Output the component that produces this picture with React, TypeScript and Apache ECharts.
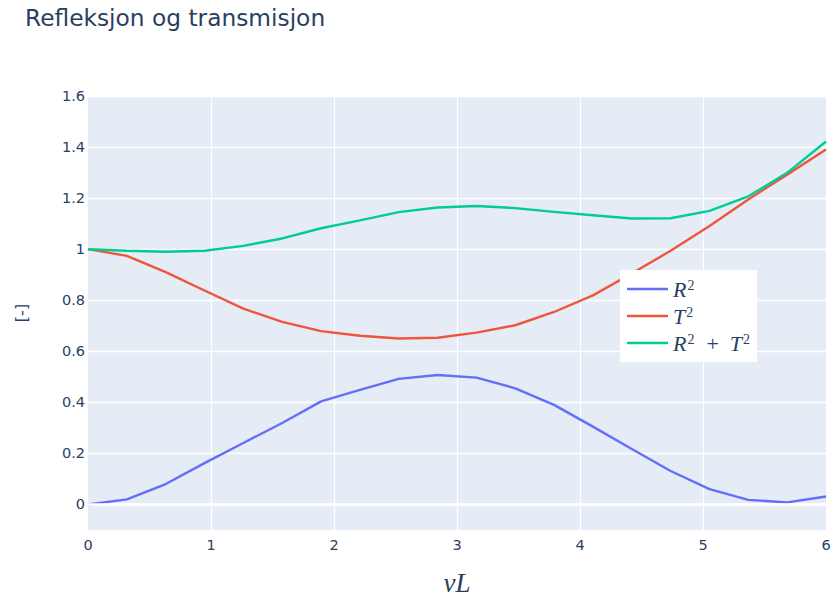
import React, { useEffect, useRef } from "react";
import * as echarts from "echarts";

// νL sample points
const nuL = [
  0, 0.316, 0.632, 0.947, 1.263, 1.579, 1.895, 2.211, 2.526, 2.842, 3.158,
  3.474, 3.789, 4.105, 4.421, 4.737, 5.053, 5.368, 5.684, 6,
];

// Reflected and transmitted intensity
const r2 = [
  0, 0.02, 0.08, 0.162, 0.241, 0.319, 0.404, 0.449, 0.492, 0.507, 0.497,
  0.455, 0.39, 0.305, 0.217, 0.131, 0.06, 0.018, 0.008, 0.031,
];
const t2 = [
  1.0, 0.974, 0.91, 0.838, 0.767, 0.715, 0.679, 0.661, 0.65, 0.653, 0.673,
  0.702, 0.754, 0.819, 0.905, 0.994, 1.091, 1.195, 1.292, 1.39,
];
const sum = [
  1.0, 0.994, 0.99, 0.994, 1.013, 1.042, 1.082, 1.113, 1.145, 1.163, 1.169,
  1.161, 1.146, 1.133, 1.12, 1.121, 1.15, 1.207, 1.299, 1.422,
];

const seriesNames = ["R²", "T²", "R² + T²"];
const legendLabels: Record<string, string> = {
  "R²": "{i|R}{s|2}",
  "T²": "{i|T}{s|2}",
  "R² + T²": "{i|R}{s|2}{p|+}{i|T}{s|2}",
};
const colors = ["#636efa", "#EF553B", "#00cc96"];

const ink = "#2a3f5f";
const uiFont = "DejaVu Sans";
const mathFont = "Liberation Serif";

const pairs = (ys: number[]) => nuL.map((x, i) => [x, ys[i]]);

export default function App() {
  const ref = useRef<HTMLDivElement>(null);

  useEffect(() => {
    document.body.style.margin = "0";
    if (!ref.current) return;
    const chart = echarts.init(ref.current, undefined, { renderer: "svg" });

    const lineSeries = [r2, t2, sum].map((ys, k) => ({
      name: seriesNames[k],
      type: "line",
      data: pairs(ys),
      symbol: "none",
      z: 3,
      lineStyle: { color: colors[k], width: 2.4 },
      itemStyle: { color: colors[k] },
    }));

    chart.setOption({
      animation: false,
      backgroundColor: "#ffffff",
      title: {
        text: "Refleksjon og transmisjon",
        left: 25,
        top: 6,
        padding: 0,
        textStyle: {
          fontFamily: uiFont,
          fontSize: 23.3,
          fontWeight: "normal",
          color: ink,
        },
      },
      grid: {
        left: 88,
        right: 9,
        top: 96,
        bottom: 68,
        containLabel: false,
        show: true,
        backgroundColor: "#E5ECF6",
        borderWidth: 0,
      },
      xAxis: {
        type: "value",
        min: 0,
        max: 6,
        interval: 1,
        axisLine: { show: false },
        axisTick: { show: false },
        axisLabel: {
          color: ink,
          fontFamily: uiFont,
          fontSize: 14.5,
          margin: 7,
        },
        splitLine: {
          show: true,
          showMinLine: false,
          showMaxLine: false,
          lineStyle: { color: "#ffffff", width: 1.2 },
        },
        name: "{v|νL}",
        nameLocation: "middle",
        nameGap: 39,
        nameTextStyle: {
          rich: {
            v: {
              fontFamily: mathFont,
              fontStyle: "italic",
              fontSize: 27,
              color: ink,
            },
          },
        },
      },
      yAxis: {
        type: "value",
        min: -0.1,
        max: 1.6,
        splitNumber: 8,
        axisLine: { show: false },
        axisTick: { show: false },
        axisLabel: {
          color: ink,
          fontFamily: uiFont,
          fontSize: 14.5,
          margin: 3,
          showMinLabel: false,
        },
        splitLine: {
          show: true,
          showMinLine: false,
          lineStyle: { color: "#ffffff", width: 1.3 },
        },
        name: "[-]",
        nameLocation: "middle",
        nameGap: 59,
        nameTextStyle: { color: ink, fontFamily: uiFont, fontSize: 16 },
      },
      legend: {
        data: seriesNames,
        orient: "vertical",
        left: 620,
        top: 270,
        padding: [8, 7, 8, 7],
        itemGap: 5,
        itemWidth: 41,
        itemHeight: 2.4,
        icon: "rect",
        backgroundColor: "#ffffff",
        formatter: (name: string) => legendLabels[name],
        textStyle: {
          color: ink,
          rich: {
            i: {
              fontFamily: mathFont,
              fontStyle: "italic",
              fontSize: 22,
              lineHeight: 21,
              color: ink,
              verticalAlign: "middle",
            },
            s: {
              fontFamily: mathFont,
              fontSize: 14,
              lineHeight: 13,
              color: ink,
              verticalAlign: "top",
              padding: [0, 0, 0, 1],
            },
            p: {
              fontFamily: mathFont,
              fontSize: 22,
              lineHeight: 21,
              color: ink,
              verticalAlign: "middle",
              padding: [0, 11, 0, 12],
            },
          },
        },
      },
      series: [
        // thicker white zero line under the traces
        {
          name: "zero",
          type: "line",
          data: [],
          z: 1,
          silent: true,
          markLine: {
            silent: true,
            symbol: "none",
            label: { show: false },
            lineStyle: { color: "#ffffff", width: 2.6, type: "solid" },
            data: [{ yAxis: 0 }],
          },
        },
        ...lineSeries,
      ],
    });

    return () => chart.dispose();
  }, []);

  return <div ref={ref} style={{ width: 835, height: 601 }} />;
}
